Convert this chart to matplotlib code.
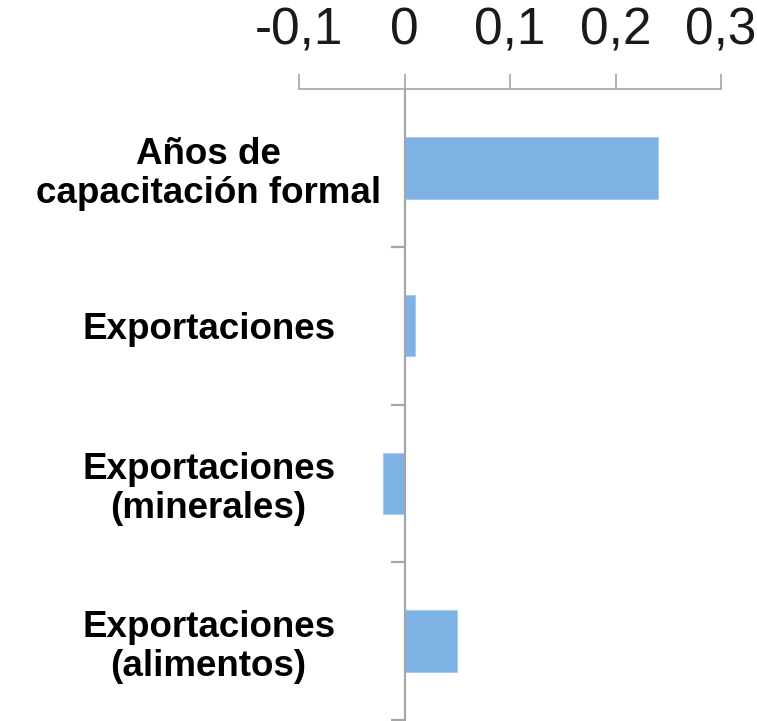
import numpy as np
import matplotlib
matplotlib.use("Agg")
import matplotlib.pyplot as plt
from matplotlib.ticker import FuncFormatter, FixedLocator

# datos
categorias = ["Años de\ncapacitación formal", "Exportaciones",
              "Exportaciones\n(minerales)", "Exportaciones\n(alimentos)"]
valores = [0.24, 0.01, -0.02, 0.05]
ticks_x = [-0.1, 0, 0.1, 0.2, 0.3]

plt.rcParams['font.family'] = ['Liberation Sans', 'DejaVu Sans']

fig = plt.figure(figsize=(7.57, 7.21), dpi=100)
ax = fig.add_axes([299/757, 1/721, (721-299)/757, (720-89)/721])

pos = np.arange(len(categorias))
ax.barh(pos, valores, height=0.39, color='#7EB1E4', edgecolor='#A9CBEE', linewidth=0.8, zorder=2)

ax.set_xlim(-0.1, 0.3)
ax.set_ylim(3.5, -0.5)

gris = '#A6A6A6'
# eje x arriba
ax.xaxis.tick_top()
ax.set_xticks(ticks_x)
ax.xaxis.set_major_formatter(FuncFormatter(lambda v, p: ("%g" % round(v, 2)).replace('.', ',')))
ax.tick_params(axis='x', direction='out', length=11, width=1.2, color=gris,
               labelsize=37, pad=13, labelcolor='#1a1a1a')

# eje y en cero
ax.spines['left'].set_position(('data', 0))
ax.spines['left'].set_color(gris)
ax.spines['left'].set_linewidth(1.6)
ax.spines['top'].set_color(gris)
ax.spines['top'].set_linewidth(1.2)
ax.spines['right'].set_visible(False)
ax.spines['bottom'].set_visible(False)

ax.set_yticks(pos)
ax.set_yticklabels(categorias, fontsize=26.5, fontweight='bold', ha='center',
                   multialignment='center', linespacing=1.15)
ax.tick_params(axis='y', which='major', length=0, pad=141)
ax.yaxis.set_minor_locator(FixedLocator([0.5, 1.5, 2.5, 3.5]))
ax.tick_params(axis='y', which='minor', direction='out', length=10, width=1.6, color=gris)

fig.savefig("out.png", dpi=100)
